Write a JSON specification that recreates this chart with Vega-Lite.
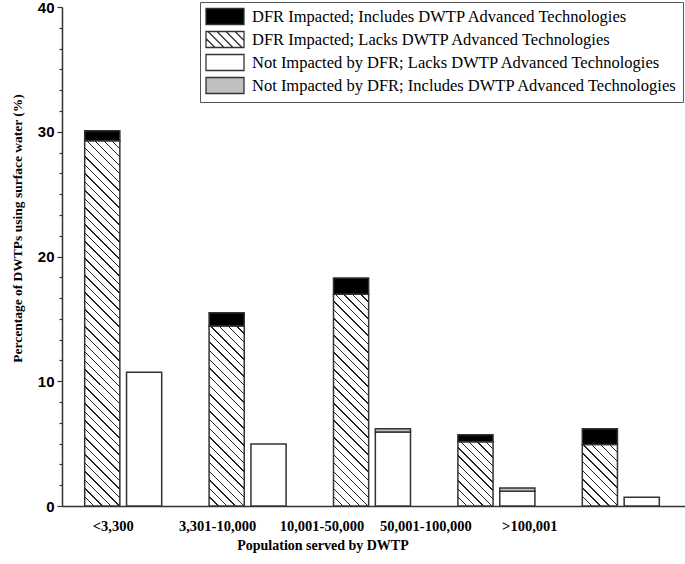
{
  "$schema": "https://vega.github.io/schema/vega-lite/v6.json",
  "width": 623,
  "height": 499,
  "autosize": {"type": "none"},
  "padding": {"left": 62, "top": 7, "right": 0, "bottom": 58},
  "config": {"view": {"stroke": null}, "font": "Liberation Serif"},
  "data": {
    "values": [
      {"group": "<3,300", "impact": "DFR", "series": "DFR Impacted; Lacks DWTP Advanced Technologies", "layer": 1, "value": 29.28},
      {"group": "<3,300", "impact": "DFR", "series": "DFR Impacted; Includes DWTP Advanced Technologies", "layer": 2, "value": 0.8},
      {"group": "<3,300", "impact": "Not", "series": "Not Impacted by DFR; Lacks DWTP Advanced Technologies", "layer": 1, "value": 10.72},
      {"group": "3,301-10,000", "impact": "DFR", "series": "DFR Impacted; Lacks DWTP Advanced Technologies", "layer": 1, "value": 14.43},
      {"group": "3,301-10,000", "impact": "DFR", "series": "DFR Impacted; Includes DWTP Advanced Technologies", "layer": 2, "value": 1.07},
      {"group": "3,301-10,000", "impact": "Not", "series": "Not Impacted by DFR; Lacks DWTP Advanced Technologies", "layer": 1, "value": 4.97},
      {"group": "10,001-50,000", "impact": "DFR", "series": "DFR Impacted; Lacks DWTP Advanced Technologies", "layer": 1, "value": 16.97},
      {"group": "10,001-50,000", "impact": "DFR", "series": "DFR Impacted; Includes DWTP Advanced Technologies", "layer": 2, "value": 1.31},
      {"group": "10,001-50,000", "impact": "Not", "series": "Not Impacted by DFR; Lacks DWTP Advanced Technologies", "layer": 1, "value": 5.93},
      {"group": "10,001-50,000", "impact": "Not", "series": "Not Impacted by DFR; Includes DWTP Advanced Technologies", "layer": 2, "value": 0.27},
      {"group": "50,001-100,000", "impact": "DFR", "series": "DFR Impacted; Lacks DWTP Advanced Technologies", "layer": 1, "value": 5.16},
      {"group": "50,001-100,000", "impact": "DFR", "series": "DFR Impacted; Includes DWTP Advanced Technologies", "layer": 2, "value": 0.56},
      {"group": "50,001-100,000", "impact": "Not", "series": "Not Impacted by DFR; Lacks DWTP Advanced Technologies", "layer": 1, "value": 1.18},
      {"group": "50,001-100,000", "impact": "Not", "series": "Not Impacted by DFR; Includes DWTP Advanced Technologies", "layer": 2, "value": 0.26},
      {"group": ">100,001", "impact": "DFR", "series": "DFR Impacted; Lacks DWTP Advanced Technologies", "layer": 1, "value": 4.92},
      {"group": ">100,001", "impact": "DFR", "series": "DFR Impacted; Includes DWTP Advanced Technologies", "layer": 2, "value": 1.28},
      {"group": ">100,001", "impact": "Not", "series": "Not Impacted by DFR; Lacks DWTP Advanced Technologies", "layer": 1, "value": 0.7}
    ]
  },
  "mark": {"type": "bar", "stroke": "#333", "strokeWidth": 1.5},
  "encoding": {
    "x": {
      "field": "group", "type": "nominal",
      "sort": ["<3,300", "3,301-10,000", "10,001-50,000", "50,001-100,000", ">100,001"],
      "scale": {"paddingInner": 0.381, "paddingOuter": 0.1945, "align": 0.469},
      "axis": {
        "title": "Population served by DWTP",
        "titleFont": "Liberation Serif", "titleFontWeight": "bold", "titleFontSize": 14, "titleColor": "#000", "titlePadding": 6,
        "titleX": 260.5, "titleAlign": "center", "titleAnchor": "start",
        "labelFont": "Liberation Serif", "labelFontWeight": "bold", "labelFontSize": 14.5, "labelColor": "#000",
        "labelAngle": 0, "labelPadding": 13, "ticks": false, "grid": false,
        "domainColor": "#333", "domainWidth": 1.5,
        "labelOffset": {"condition": [
          {"test": "datum.value === '<3,300'", "value": -10},
          {"test": "datum.value === '3,301-10,000'", "value": -30},
          {"test": "datum.value === '10,001-50,000'", "value": -50},
          {"test": "datum.value === '50,001-100,000'", "value": -70.5}
        ], "value": -91}
      }
    },
    "xOffset": {"field": "impact", "type": "nominal", "sort": ["DFR", "Not"], "scale": {"paddingInner": 0.16, "paddingOuter": 0}},
    "y": {
      "field": "value", "type": "quantitative", "stack": "zero",
      "scale": {"domain": [0, 40], "nice": false},
      "axis": {
        "title": "Percentage of DWTPs using surface water (%)",
        "titleFont": "Liberation Serif", "titleFontWeight": "bold", "titleFontSize": 13.5, "titleColor": "#000",
        "titleAngle": 270, "titleAlign": "center", "titleBaseline": "bottom", "titleX": -38, "titleY": 221,
        "values": [0, 1.667, 3.333, 5, 6.667, 8.333, 10, 11.667, 13.333, 15, 16.667, 18.333, 20, 21.667, 23.333, 25, 26.667, 28.333, 30, 31.667, 33.333, 35, 36.667, 38.333, 40],
        "labelExpr": "datum.value % 10 === 0 ? datum.label : ''",
        "labelFont": "Liberation Sans", "labelFontWeight": "bold", "labelFontSize": 15, "labelColor": "#000", "labelPadding": 3,
        "tickSize": {"condition": {"test": "datum.value % 10 === 0", "value": 5}, "value": 3},
        "tickColor": "#333", "tickWidth": 1.2, "grid": false,
        "domainColor": "#333", "domainWidth": 1.5
      }
    },
    "order": {"field": "layer", "type": "quantitative", "sort": "ascending"},
    "fill": {
      "field": "series", "type": "nominal",
      "scale": {
        "domain": ["DFR Impacted; Includes DWTP Advanced Technologies", "DFR Impacted; Lacks DWTP Advanced Technologies", "Not Impacted by DFR; Lacks DWTP Advanced Technologies", "Not Impacted by DFR; Includes DWTP Advanced Technologies"],
        "range": ["#000000", "#ffffff", "#ffffff", "#c0c0c0"]
      },
      "condition": [
        {"test": "datum.layer === 1 && datum.impact === 'DFR' && datum.group === '<3,300'", "value": {"gradient": "linear", "x1": 0, "y1": 1, "x2": 0.10452, "y2": -0.08617, "stops": [
          {"offset":0,"color":"#fff"},
          {"offset":0.0213,"color":"#fff"},{"offset":0.0213,"color":"#222"},{"offset":0.0248,"color":"#222"},{"offset":0.0248,"color":"#fff"},
          {"offset":0.0426,"color":"#fff"},{"offset":0.0426,"color":"#222"},{"offset":0.0461,"color":"#222"},{"offset":0.0461,"color":"#fff"},
          {"offset":0.0638,"color":"#fff"},{"offset":0.0638,"color":"#222"},{"offset":0.0673,"color":"#222"},{"offset":0.0673,"color":"#fff"},
          {"offset":0.0851,"color":"#fff"},{"offset":0.0851,"color":"#222"},{"offset":0.0886,"color":"#222"},{"offset":0.0886,"color":"#fff"},
          {"offset":0.1064,"color":"#fff"},{"offset":0.1064,"color":"#222"},{"offset":0.1099,"color":"#222"},{"offset":0.1099,"color":"#fff"},
          {"offset":0.1277,"color":"#fff"},{"offset":0.1277,"color":"#222"},{"offset":0.1312,"color":"#222"},{"offset":0.1312,"color":"#fff"},
          {"offset":0.1489,"color":"#fff"},{"offset":0.1489,"color":"#222"},{"offset":0.1524,"color":"#222"},{"offset":0.1524,"color":"#fff"},
          {"offset":0.1702,"color":"#fff"},{"offset":0.1702,"color":"#222"},{"offset":0.1737,"color":"#222"},{"offset":0.1737,"color":"#fff"},
          {"offset":0.1915,"color":"#fff"},{"offset":0.1915,"color":"#222"},{"offset":0.1950,"color":"#222"},{"offset":0.1950,"color":"#fff"},
          {"offset":0.2128,"color":"#fff"},{"offset":0.2128,"color":"#222"},{"offset":0.2163,"color":"#222"},{"offset":0.2163,"color":"#fff"},
          {"offset":0.2340,"color":"#fff"},{"offset":0.2340,"color":"#222"},{"offset":0.2375,"color":"#222"},{"offset":0.2375,"color":"#fff"},
          {"offset":0.2553,"color":"#fff"},{"offset":0.2553,"color":"#222"},{"offset":0.2588,"color":"#222"},{"offset":0.2588,"color":"#fff"},
          {"offset":0.2766,"color":"#fff"},{"offset":0.2766,"color":"#222"},{"offset":0.2801,"color":"#222"},{"offset":0.2801,"color":"#fff"},
          {"offset":0.2979,"color":"#fff"},{"offset":0.2979,"color":"#222"},{"offset":0.3014,"color":"#222"},{"offset":0.3014,"color":"#fff"},
          {"offset":0.3191,"color":"#fff"},{"offset":0.3191,"color":"#222"},{"offset":0.3226,"color":"#222"},{"offset":0.3226,"color":"#fff"},
          {"offset":0.3404,"color":"#fff"},{"offset":0.3404,"color":"#222"},{"offset":0.3439,"color":"#222"},{"offset":0.3439,"color":"#fff"},
          {"offset":0.3617,"color":"#fff"},{"offset":0.3617,"color":"#222"},{"offset":0.3652,"color":"#222"},{"offset":0.3652,"color":"#fff"},
          {"offset":0.3830,"color":"#fff"},{"offset":0.3830,"color":"#222"},{"offset":0.3865,"color":"#222"},{"offset":0.3865,"color":"#fff"},
          {"offset":0.4043,"color":"#fff"},{"offset":0.4043,"color":"#222"},{"offset":0.4078,"color":"#222"},{"offset":0.4078,"color":"#fff"},
          {"offset":0.4255,"color":"#fff"},{"offset":0.4255,"color":"#222"},{"offset":0.4290,"color":"#222"},{"offset":0.4290,"color":"#fff"},
          {"offset":0.4468,"color":"#fff"},{"offset":0.4468,"color":"#222"},{"offset":0.4503,"color":"#222"},{"offset":0.4503,"color":"#fff"},
          {"offset":0.4681,"color":"#fff"},{"offset":0.4681,"color":"#222"},{"offset":0.4716,"color":"#222"},{"offset":0.4716,"color":"#fff"},
          {"offset":0.4894,"color":"#fff"},{"offset":0.4894,"color":"#222"},{"offset":0.4929,"color":"#222"},{"offset":0.4929,"color":"#fff"},
          {"offset":0.5106,"color":"#fff"},{"offset":0.5106,"color":"#222"},{"offset":0.5141,"color":"#222"},{"offset":0.5141,"color":"#fff"},
          {"offset":0.5319,"color":"#fff"},{"offset":0.5319,"color":"#222"},{"offset":0.5354,"color":"#222"},{"offset":0.5354,"color":"#fff"},
          {"offset":0.5532,"color":"#fff"},{"offset":0.5532,"color":"#222"},{"offset":0.5567,"color":"#222"},{"offset":0.5567,"color":"#fff"},
          {"offset":0.5745,"color":"#fff"},{"offset":0.5745,"color":"#222"},{"offset":0.5780,"color":"#222"},{"offset":0.5780,"color":"#fff"},
          {"offset":0.5957,"color":"#fff"},{"offset":0.5957,"color":"#222"},{"offset":0.5992,"color":"#222"},{"offset":0.5992,"color":"#fff"},
          {"offset":0.6170,"color":"#fff"},{"offset":0.6170,"color":"#222"},{"offset":0.6205,"color":"#222"},{"offset":0.6205,"color":"#fff"},
          {"offset":0.6383,"color":"#fff"},{"offset":0.6383,"color":"#222"},{"offset":0.6418,"color":"#222"},{"offset":0.6418,"color":"#fff"},
          {"offset":0.6596,"color":"#fff"},{"offset":0.6596,"color":"#222"},{"offset":0.6631,"color":"#222"},{"offset":0.6631,"color":"#fff"},
          {"offset":0.6809,"color":"#fff"},{"offset":0.6809,"color":"#222"},{"offset":0.6844,"color":"#222"},{"offset":0.6844,"color":"#fff"},
          {"offset":0.7021,"color":"#fff"},{"offset":0.7021,"color":"#222"},{"offset":0.7056,"color":"#222"},{"offset":0.7056,"color":"#fff"},
          {"offset":0.7234,"color":"#fff"},{"offset":0.7234,"color":"#222"},{"offset":0.7269,"color":"#222"},{"offset":0.7269,"color":"#fff"},
          {"offset":0.7447,"color":"#fff"},{"offset":0.7447,"color":"#222"},{"offset":0.7482,"color":"#222"},{"offset":0.7482,"color":"#fff"},
          {"offset":0.7660,"color":"#fff"},{"offset":0.7660,"color":"#222"},{"offset":0.7695,"color":"#222"},{"offset":0.7695,"color":"#fff"},
          {"offset":0.7872,"color":"#fff"},{"offset":0.7872,"color":"#222"},{"offset":0.7907,"color":"#222"},{"offset":0.7907,"color":"#fff"},
          {"offset":0.8085,"color":"#fff"},{"offset":0.8085,"color":"#222"},{"offset":0.8120,"color":"#222"},{"offset":0.8120,"color":"#fff"},
          {"offset":0.8298,"color":"#fff"},{"offset":0.8298,"color":"#222"},{"offset":0.8333,"color":"#222"},{"offset":0.8333,"color":"#fff"},
          {"offset":0.8511,"color":"#fff"},{"offset":0.8511,"color":"#222"},{"offset":0.8546,"color":"#222"},{"offset":0.8546,"color":"#fff"},
          {"offset":0.8723,"color":"#fff"},{"offset":0.8723,"color":"#222"},{"offset":0.8758,"color":"#222"},{"offset":0.8758,"color":"#fff"},
          {"offset":0.8936,"color":"#fff"},{"offset":0.8936,"color":"#222"},{"offset":0.8971,"color":"#222"},{"offset":0.8971,"color":"#fff"},
          {"offset":0.9149,"color":"#fff"},{"offset":0.9149,"color":"#222"},{"offset":0.9184,"color":"#222"},{"offset":0.9184,"color":"#fff"},
          {"offset":0.9362,"color":"#fff"},{"offset":0.9362,"color":"#222"},{"offset":0.9397,"color":"#222"},{"offset":0.9397,"color":"#fff"},
          {"offset":0.9574,"color":"#fff"},{"offset":0.9574,"color":"#222"},{"offset":0.9609,"color":"#222"},{"offset":0.9609,"color":"#fff"},
          {"offset":0.9787,"color":"#fff"},{"offset":0.9787,"color":"#222"},{"offset":0.9822,"color":"#222"},{"offset":0.9822,"color":"#fff"},
          {"offset":1,"color":"#fff"}
        ]}},
        {"test": "datum.layer === 1 && datum.impact === 'DFR' && datum.group === '3,301-10,000'", "value": {"gradient": "linear", "x1": 0, "y1": 1, "x2": 0.22482, "y2": -0.15136, "stops": [
          {"offset":0,"color":"#fff"},
          {"offset":0.04,"color":"#fff"},{"offset":0.04,"color":"#222"},{"offset":0.0465,"color":"#222"},{"offset":0.0465,"color":"#fff"},
          {"offset":0.08,"color":"#fff"},{"offset":0.08,"color":"#222"},{"offset":0.0865,"color":"#222"},{"offset":0.0865,"color":"#fff"},
          {"offset":0.12,"color":"#fff"},{"offset":0.12,"color":"#222"},{"offset":0.1265,"color":"#222"},{"offset":0.1265,"color":"#fff"},
          {"offset":0.16,"color":"#fff"},{"offset":0.16,"color":"#222"},{"offset":0.1665,"color":"#222"},{"offset":0.1665,"color":"#fff"},
          {"offset":0.2,"color":"#fff"},{"offset":0.2,"color":"#222"},{"offset":0.2065,"color":"#222"},{"offset":0.2065,"color":"#fff"},
          {"offset":0.24,"color":"#fff"},{"offset":0.24,"color":"#222"},{"offset":0.2465,"color":"#222"},{"offset":0.2465,"color":"#fff"},
          {"offset":0.28,"color":"#fff"},{"offset":0.28,"color":"#222"},{"offset":0.2865,"color":"#222"},{"offset":0.2865,"color":"#fff"},
          {"offset":0.32,"color":"#fff"},{"offset":0.32,"color":"#222"},{"offset":0.3265,"color":"#222"},{"offset":0.3265,"color":"#fff"},
          {"offset":0.36,"color":"#fff"},{"offset":0.36,"color":"#222"},{"offset":0.3665,"color":"#222"},{"offset":0.3665,"color":"#fff"},
          {"offset":0.4,"color":"#fff"},{"offset":0.4,"color":"#222"},{"offset":0.4065,"color":"#222"},{"offset":0.4065,"color":"#fff"},
          {"offset":0.44,"color":"#fff"},{"offset":0.44,"color":"#222"},{"offset":0.4465,"color":"#222"},{"offset":0.4465,"color":"#fff"},
          {"offset":0.48,"color":"#fff"},{"offset":0.48,"color":"#222"},{"offset":0.4865,"color":"#222"},{"offset":0.4865,"color":"#fff"},
          {"offset":0.52,"color":"#fff"},{"offset":0.52,"color":"#222"},{"offset":0.5265,"color":"#222"},{"offset":0.5265,"color":"#fff"},
          {"offset":0.56,"color":"#fff"},{"offset":0.56,"color":"#222"},{"offset":0.5665,"color":"#222"},{"offset":0.5665,"color":"#fff"},
          {"offset":0.6,"color":"#fff"},{"offset":0.6,"color":"#222"},{"offset":0.6065,"color":"#222"},{"offset":0.6065,"color":"#fff"},
          {"offset":0.64,"color":"#fff"},{"offset":0.64,"color":"#222"},{"offset":0.6465,"color":"#222"},{"offset":0.6465,"color":"#fff"},
          {"offset":0.68,"color":"#fff"},{"offset":0.68,"color":"#222"},{"offset":0.6865,"color":"#222"},{"offset":0.6865,"color":"#fff"},
          {"offset":0.72,"color":"#fff"},{"offset":0.72,"color":"#222"},{"offset":0.7265,"color":"#222"},{"offset":0.7265,"color":"#fff"},
          {"offset":0.76,"color":"#fff"},{"offset":0.76,"color":"#222"},{"offset":0.7665,"color":"#222"},{"offset":0.7665,"color":"#fff"},
          {"offset":0.8,"color":"#fff"},{"offset":0.8,"color":"#222"},{"offset":0.8065,"color":"#222"},{"offset":0.8065,"color":"#fff"},
          {"offset":0.84,"color":"#fff"},{"offset":0.84,"color":"#222"},{"offset":0.8465,"color":"#222"},{"offset":0.8465,"color":"#fff"},
          {"offset":0.88,"color":"#fff"},{"offset":0.88,"color":"#222"},{"offset":0.8865,"color":"#222"},{"offset":0.8865,"color":"#fff"},
          {"offset":0.92,"color":"#fff"},{"offset":0.92,"color":"#222"},{"offset":0.9265,"color":"#222"},{"offset":0.9265,"color":"#fff"},
          {"offset":0.96,"color":"#fff"},{"offset":0.96,"color":"#222"},{"offset":0.9665,"color":"#222"},{"offset":0.9665,"color":"#fff"},
          {"offset":1,"color":"#fff"}
        ]}},
        {"test": "datum.layer === 1 && datum.impact === 'DFR' && datum.group === '10,001-50,000'", "value": {"gradient": "linear", "x1": 0, "y1": 1, "x2": 0.18841, "y2": -0.13475, "stops": [
          {"offset":0,"color":"#fff"},
          {"offset":0.0345,"color":"#fff"},{"offset":0.0345,"color":"#222"},{"offset":0.0402,"color":"#222"},{"offset":0.0402,"color":"#fff"},
          {"offset":0.0690,"color":"#fff"},{"offset":0.0690,"color":"#222"},{"offset":0.0747,"color":"#222"},{"offset":0.0747,"color":"#fff"},
          {"offset":0.1034,"color":"#fff"},{"offset":0.1034,"color":"#222"},{"offset":0.1091,"color":"#222"},{"offset":0.1091,"color":"#fff"},
          {"offset":0.1379,"color":"#fff"},{"offset":0.1379,"color":"#222"},{"offset":0.1436,"color":"#222"},{"offset":0.1436,"color":"#fff"},
          {"offset":0.1724,"color":"#fff"},{"offset":0.1724,"color":"#222"},{"offset":0.1781,"color":"#222"},{"offset":0.1781,"color":"#fff"},
          {"offset":0.2069,"color":"#fff"},{"offset":0.2069,"color":"#222"},{"offset":0.2126,"color":"#222"},{"offset":0.2126,"color":"#fff"},
          {"offset":0.2414,"color":"#fff"},{"offset":0.2414,"color":"#222"},{"offset":0.2471,"color":"#222"},{"offset":0.2471,"color":"#fff"},
          {"offset":0.2759,"color":"#fff"},{"offset":0.2759,"color":"#222"},{"offset":0.2816,"color":"#222"},{"offset":0.2816,"color":"#fff"},
          {"offset":0.3103,"color":"#fff"},{"offset":0.3103,"color":"#222"},{"offset":0.3160,"color":"#222"},{"offset":0.3160,"color":"#fff"},
          {"offset":0.3448,"color":"#fff"},{"offset":0.3448,"color":"#222"},{"offset":0.3505,"color":"#222"},{"offset":0.3505,"color":"#fff"},
          {"offset":0.3793,"color":"#fff"},{"offset":0.3793,"color":"#222"},{"offset":0.3850,"color":"#222"},{"offset":0.3850,"color":"#fff"},
          {"offset":0.4138,"color":"#fff"},{"offset":0.4138,"color":"#222"},{"offset":0.4195,"color":"#222"},{"offset":0.4195,"color":"#fff"},
          {"offset":0.4483,"color":"#fff"},{"offset":0.4483,"color":"#222"},{"offset":0.4540,"color":"#222"},{"offset":0.4540,"color":"#fff"},
          {"offset":0.4828,"color":"#fff"},{"offset":0.4828,"color":"#222"},{"offset":0.4885,"color":"#222"},{"offset":0.4885,"color":"#fff"},
          {"offset":0.5172,"color":"#fff"},{"offset":0.5172,"color":"#222"},{"offset":0.5229,"color":"#222"},{"offset":0.5229,"color":"#fff"},
          {"offset":0.5517,"color":"#fff"},{"offset":0.5517,"color":"#222"},{"offset":0.5574,"color":"#222"},{"offset":0.5574,"color":"#fff"},
          {"offset":0.5862,"color":"#fff"},{"offset":0.5862,"color":"#222"},{"offset":0.5919,"color":"#222"},{"offset":0.5919,"color":"#fff"},
          {"offset":0.6207,"color":"#fff"},{"offset":0.6207,"color":"#222"},{"offset":0.6264,"color":"#222"},{"offset":0.6264,"color":"#fff"},
          {"offset":0.6552,"color":"#fff"},{"offset":0.6552,"color":"#222"},{"offset":0.6609,"color":"#222"},{"offset":0.6609,"color":"#fff"},
          {"offset":0.6897,"color":"#fff"},{"offset":0.6897,"color":"#222"},{"offset":0.6954,"color":"#222"},{"offset":0.6954,"color":"#fff"},
          {"offset":0.7241,"color":"#fff"},{"offset":0.7241,"color":"#222"},{"offset":0.7298,"color":"#222"},{"offset":0.7298,"color":"#fff"},
          {"offset":0.7586,"color":"#fff"},{"offset":0.7586,"color":"#222"},{"offset":0.7643,"color":"#222"},{"offset":0.7643,"color":"#fff"},
          {"offset":0.7931,"color":"#fff"},{"offset":0.7931,"color":"#222"},{"offset":0.7988,"color":"#222"},{"offset":0.7988,"color":"#fff"},
          {"offset":0.8276,"color":"#fff"},{"offset":0.8276,"color":"#222"},{"offset":0.8333,"color":"#222"},{"offset":0.8333,"color":"#fff"},
          {"offset":0.8621,"color":"#fff"},{"offset":0.8621,"color":"#222"},{"offset":0.8678,"color":"#222"},{"offset":0.8678,"color":"#fff"},
          {"offset":0.8966,"color":"#fff"},{"offset":0.8966,"color":"#222"},{"offset":0.9023,"color":"#222"},{"offset":0.9023,"color":"#fff"},
          {"offset":0.9310,"color":"#fff"},{"offset":0.9310,"color":"#222"},{"offset":0.9367,"color":"#222"},{"offset":0.9367,"color":"#fff"},
          {"offset":0.9655,"color":"#fff"},{"offset":0.9655,"color":"#222"},{"offset":0.9712,"color":"#222"},{"offset":0.9712,"color":"#fff"},
          {"offset":1,"color":"#fff"}
        ]}},
        {"test": "datum.layer === 1 && datum.impact === 'DFR' && datum.group === '50,001-100,000'", "value": {"gradient": "linear", "x1": 0, "y1": 1, "x2": 0.65034, "y2": -0.19097, "stops": [
          {"offset":0,"color":"#fff"},
          {"offset":0.0833,"color":"#fff"},{"offset":0.0833,"color":"#222"},{"offset":0.0974,"color":"#222"},{"offset":0.0974,"color":"#fff"},
          {"offset":0.1667,"color":"#fff"},{"offset":0.1667,"color":"#222"},{"offset":0.1808,"color":"#222"},{"offset":0.1808,"color":"#fff"},
          {"offset":0.25,"color":"#fff"},{"offset":0.25,"color":"#222"},{"offset":0.2641,"color":"#222"},{"offset":0.2641,"color":"#fff"},
          {"offset":0.3333,"color":"#fff"},{"offset":0.3333,"color":"#222"},{"offset":0.3474,"color":"#222"},{"offset":0.3474,"color":"#fff"},
          {"offset":0.4167,"color":"#fff"},{"offset":0.4167,"color":"#222"},{"offset":0.4308,"color":"#222"},{"offset":0.4308,"color":"#fff"},
          {"offset":0.5,"color":"#fff"},{"offset":0.5,"color":"#222"},{"offset":0.5141,"color":"#222"},{"offset":0.5141,"color":"#fff"},
          {"offset":0.5833,"color":"#fff"},{"offset":0.5833,"color":"#222"},{"offset":0.5974,"color":"#222"},{"offset":0.5974,"color":"#fff"},
          {"offset":0.6667,"color":"#fff"},{"offset":0.6667,"color":"#222"},{"offset":0.6808,"color":"#222"},{"offset":0.6808,"color":"#fff"},
          {"offset":0.75,"color":"#fff"},{"offset":0.75,"color":"#222"},{"offset":0.7641,"color":"#222"},{"offset":0.7641,"color":"#fff"},
          {"offset":0.8333,"color":"#fff"},{"offset":0.8333,"color":"#222"},{"offset":0.8474,"color":"#222"},{"offset":0.8474,"color":"#fff"},
          {"offset":0.9167,"color":"#fff"},{"offset":0.9167,"color":"#222"},{"offset":0.9308,"color":"#222"},{"offset":0.9308,"color":"#fff"},
          {"offset":1,"color":"#fff"}
        ]}},
        {"test": "datum.layer === 1 && datum.impact === 'DFR' && datum.group === '>100,001'", "value": {"gradient": "linear", "x1": 0, "y1": 1, "x2": 0.67818, "y2": -0.18427, "stops": [
          {"offset":0,"color":"#fff"},
          {"offset":0.0909,"color":"#fff"},{"offset":0.0909,"color":"#222"},{"offset":0.1054,"color":"#222"},{"offset":0.1054,"color":"#fff"},
          {"offset":0.1818,"color":"#fff"},{"offset":0.1818,"color":"#222"},{"offset":0.1963,"color":"#222"},{"offset":0.1963,"color":"#fff"},
          {"offset":0.2727,"color":"#fff"},{"offset":0.2727,"color":"#222"},{"offset":0.2872,"color":"#222"},{"offset":0.2872,"color":"#fff"},
          {"offset":0.3636,"color":"#fff"},{"offset":0.3636,"color":"#222"},{"offset":0.3781,"color":"#222"},{"offset":0.3781,"color":"#fff"},
          {"offset":0.4545,"color":"#fff"},{"offset":0.4545,"color":"#222"},{"offset":0.4690,"color":"#222"},{"offset":0.4690,"color":"#fff"},
          {"offset":0.5455,"color":"#fff"},{"offset":0.5455,"color":"#222"},{"offset":0.5600,"color":"#222"},{"offset":0.5600,"color":"#fff"},
          {"offset":0.6364,"color":"#fff"},{"offset":0.6364,"color":"#222"},{"offset":0.6509,"color":"#222"},{"offset":0.6509,"color":"#fff"},
          {"offset":0.7273,"color":"#fff"},{"offset":0.7273,"color":"#222"},{"offset":0.7418,"color":"#222"},{"offset":0.7418,"color":"#fff"},
          {"offset":0.8182,"color":"#fff"},{"offset":0.8182,"color":"#222"},{"offset":0.8327,"color":"#222"},{"offset":0.8327,"color":"#fff"},
          {"offset":0.9091,"color":"#fff"},{"offset":0.9091,"color":"#222"},{"offset":0.9236,"color":"#222"},{"offset":0.9236,"color":"#fff"},
          {"offset":1,"color":"#fff"}
        ]}}
      ],
      "legend": {
        "orient": "none", "legendX": 138, "legendY": -5,
        "title": null,
        "symbolType": "M-1,-0.941H3.471V0.941H-1Z", "symbolSize": 289,
        "symbolStrokeColor": "#333", "symbolStrokeWidth": 1.3,
        "labelFont": "Liberation Serif", "labelFontSize": 16.5, "labelColor": "#000", "labelLimit": 700, "labelOffset": 28,
        "rowPadding": 0, "padding": 5, "strokeColor": "#555", "fillColor": "#fff", "cornerRadius": 0,
        "encoding": {
          "symbols": {
            "stroke": {"value": "#333"},
            "strokeWidth": {"value": 1.3},
            "shape": {
              "condition": {"test": "datum.value === 'DFR Impacted; Lacks DWTP Advanced Technologies'", "value": "M-1,-0.941H3.471V0.941H-1Z M-1,-0.118L0.059,0.941 M-0.765,-0.941L1.118,0.941 M0.294,-0.941L2.176,0.941 M1.353,-0.941L3.235,0.941 M2.412,-0.941L3.471,0.118"},
              "value": "M-1,-0.941H3.471V0.941H-1Z"
            },
            "fill": {
              "condition": [
                {"test": "datum.value === 'DFR Impacted; Includes DWTP Advanced Technologies'", "value": "#000000"},
                {"test": "datum.value === 'Not Impacted by DFR; Includes DWTP Advanced Technologies'", "value": "#c0c0c0"}
              ],
              "value": "#ffffff"
            }
          }
        }
      }
    }
  }
}
